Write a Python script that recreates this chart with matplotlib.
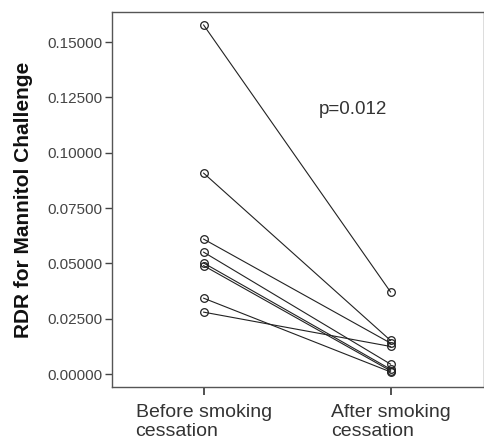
import matplotlib
matplotlib.use("Agg")
import matplotlib.pyplot as plt
import numpy as np

# RDR values, one entry per subject
before = [0.1577, 0.0908, 0.0610, 0.0551, 0.0502, 0.0490, 0.0343, 0.0280]
after = [0.0371, 0.0152, 0.0140, 0.0045, 0.0022, 0.0015, 0.0010, 0.0125]
group_labels = ["Before smoking\ncessation", "After smoking\ncessation"]
y_ticks = [0.0, 0.025, 0.05, 0.075, 0.10, 0.125, 0.15]

plt.rcParams["font.family"] = ["Liberation Sans", "DejaVu Sans"]

fig = plt.figure(figsize = (4.85, 4.43), dpi = 100)
ax = fig.add_axes([0.231, 0.126, 0.767, 0.847])

x = np.arange(len(group_labels))
for b, a in zip(before, after):
	ax.plot(x, [b, a], color = "#222222", linewidth = 0.8,
		marker = "o", markersize = 5.5, markerfacecolor = "none",
		markeredgecolor = "#222222", markeredgewidth = 0.9)
#end_for

ax.set_xlim(-0.49, 1.5)
ax.set_ylim(-0.0059, 0.1636)

ax.set_xticks(x)
ax.set_xticklabels(group_labels, fontsize = 14, color = "#333333", multialignment = "left")
ax.set_yticks(y_ticks)
ax.set_yticklabels(["%.5f" % v for v in y_ticks], fontsize = 11, color = "#444444")

ax.tick_params(axis = "y", length = 5, width = 1, color = "#444444", pad = 2)
ax.tick_params(axis = "x", length = 6, width = 1.2, color = "#333333", pad = 6)

for side in ["left", "right", "top", "bottom"]:
	ax.spines[side].set_color("#555555")
	ax.spines[side].set_linewidth(1.0)
#end_for

ax.set_ylabel("RDR for Mannitol Challenge", fontsize = 15, fontweight = "bold",
	color = "#111111", labelpad = 10)

ax.text(0.80, 0.1195, "p=0.012", fontsize = 13.5, color = "#333333", ha = "center", va = "center")

fig.savefig("out.png", dpi = 100)
